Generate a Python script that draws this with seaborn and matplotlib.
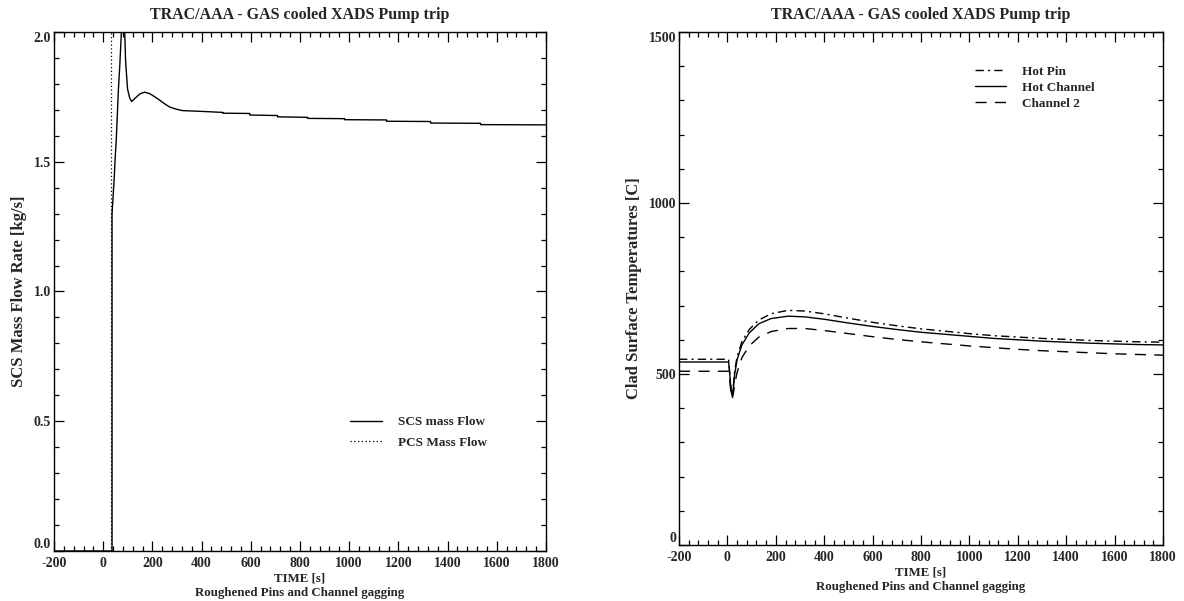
import matplotlib
matplotlib.use("Agg")
import matplotlib.pyplot as plt
from matplotlib.ticker import MultipleLocator, FormatStrFormatter
import seaborn as sns
import pandas as pd

# ---------------------------------------------------------------------------
# Data
# ---------------------------------------------------------------------------
TITLE = "TRAC/AAA - GAS cooled XADS Pump trip"
XLABEL = "TIME [s]\nRoughened Pins and Channel gagging"

# left panel: SCS / PCS mass flow [kg/s]
scs_time = [-200, 36, 36, 40, 45, 49, 53, 57, 62, 68, 74, 80, 86, 91, 99, 108,
            116, 130, 150, 169, 190, 210, 230, 250, 270, 295, 323, 400, 486,
            486, 596, 596, 709, 709, 831, 831, 981, 981, 1152, 1152, 1331,
            1331, 1534, 1534, 1800]
scs_flow = [0.0, 0.0, 1.30, 1.36, 1.44, 1.52, 1.58, 1.67, 1.78, 1.88, 2.00,
            2.18, 2.05, 1.89, 1.78, 1.745, 1.732, 1.745, 1.762, 1.768, 1.762,
            1.750, 1.737, 1.723, 1.711, 1.703, 1.697, 1.694, 1.690, 1.687,
            1.686, 1.680, 1.678, 1.673, 1.671, 1.667, 1.666, 1.662, 1.661,
            1.656, 1.655, 1.649, 1.648, 1.643, 1.642]

pcs_time = [-200, 30, 30, 1800]
pcs_flow = [10.0, 10.0, 0.0, 0.0]

# right panel: clad surface temperatures [C]
temp_time = [-200, 5, 10, 15, 20, 25, 30, 40, 60, 90, 130, 180, 250, 320, 400,
             500, 600, 700, 800, 900, 1000, 1100, 1200, 1300, 1400, 1500, 1600,
             1700, 1800]
hot_pin = [543, 543, 500, 455, 440, 470, 510, 550, 595, 630, 658, 676, 686,
           684, 676, 663, 651, 641, 632, 625, 618, 612, 608, 604, 601, 598,
           596, 594, 593]
hot_channel = [535, 535, 495, 450, 435, 462, 500, 542, 585, 620, 647, 662,
               669, 667, 660, 649, 639, 630, 622, 616, 610, 604, 600, 596,
               593, 590, 588, 586, 585]
channel_2 = [508, 508, 480, 440, 428, 445, 470, 505, 548, 582, 608, 624, 633,
             633, 627, 618, 609, 601, 594, 588, 582, 577, 572, 568, 565, 562,
             559, 557, 555]

# ---------------------------------------------------------------------------
# Style
# ---------------------------------------------------------------------------
sns.set_theme(style="ticks")
plt.rcParams["font.family"] = ["Liberation Serif", "DejaVu Serif"]
plt.rcParams["font.weight"] = "bold"
plt.rcParams["axes.labelweight"] = "bold"
plt.rcParams["axes.titleweight"] = "bold"
plt.rcParams["axes.unicode_minus"] = False
plt.rcParams["axes.linewidth"] = 1.0


def style_axes(ax, xlim, ylim, ymajor, yminor, yfmt):
    ax.set_xlim(*xlim)
    ax.set_ylim(*ylim)
    ax.xaxis.set_major_locator(MultipleLocator(200))
    ax.xaxis.set_minor_locator(MultipleLocator(40))
    ax.yaxis.set_major_locator(MultipleLocator(ymajor))
    ax.yaxis.set_minor_locator(MultipleLocator(yminor))
    ax.yaxis.set_major_formatter(FormatStrFormatter(yfmt))
    ax.tick_params(which="both", direction="in", top=True, right=True,
                   color="black", width=0.9, labelsize=10, pad=2)
    ax.tick_params(axis="x", pad=4)
    ax.tick_params(which="major", length=7)
    ax.tick_params(which="minor", length=3.5)
    for sp in ax.spines.values():
        sp.set_visible(True)
        sp.set_color("black")
    ax.set_title(TITLE, fontsize=11.5, pad=9)
    ax.set_xlabel(XLABEL, fontsize=9.3, linespacing=1.3, labelpad=2)


fig = plt.figure(figsize=(11.84, 6.01), dpi=100)
ax1 = fig.add_axes([0.0456, 0.0832, 0.4155, 0.8636])
ax2 = fig.add_axes([0.5735, 0.0932, 0.4088, 0.8536])

# --- left panel ---
scs = pd.DataFrame({"t": scs_time, "v": scs_flow})
pcs = pd.DataFrame({"t": pcs_time, "v": pcs_flow})
sns.lineplot(data=scs, x="t", y="v", ax=ax1, estimator=None, sort=False,
             color="black", lw=1.0, label="SCS mass Flow")
sns.lineplot(data=pcs, x="t", y="v", ax=ax1, estimator=None, sort=False,
             color="black", lw=0.9, linestyle=(0, (1, 2)),
             label="PCS Mass Flow")
style_axes(ax1, (-200, 1800), (0, 2.0), 0.5, 0.1, "%.1f")
ax1.set_ylabel("SCS Mass Flow Rate [kg/s]", fontsize=12, labelpad=5)
ax1.legend(loc="upper left", bbox_to_anchor=(0.591, 0.27), frameon=False,
           fontsize=9.5, handlelength=2.4, handletextpad=1.2, labelspacing=0.6,
           borderaxespad=0)

# --- right panel ---
temps = pd.DataFrame({"t": temp_time, "Hot Pin": hot_pin,
                      "Hot Channel": hot_channel, "Channel 2": channel_2})
styles = {"Hot Pin": (0, (6, 3, 1.5, 3)), "Hot Channel": "-",
          "Channel 2": (0, (8, 6))}
for name, ls in styles.items():
    sns.lineplot(data=temps, x="t", y=name, ax=ax2, estimator=None,
                 sort=False, color="black", lw=1.0, linestyle=ls, label=name)
style_axes(ax2, (-200, 1800), (0, 1500), 500, 100, "%d")
ax2.set_ylabel("Clad Surface Temperatures [C]", fontsize=12, labelpad=5)
ax2.legend(loc="upper left", bbox_to_anchor=(0.60, 0.945), frameon=False,
           fontsize=9.5, handlelength=2.4, handletextpad=1.2, labelspacing=0.3,
           borderaxespad=0)

# IDL-like placement of the end labels on the y axis
fig.canvas.draw()
for ax in (ax1, ax2):
    ticks = [t for t in ax.yaxis.get_major_ticks()
             if ax.get_ylim()[0] <= t.get_loc() <= ax.get_ylim()[1]]
    ticks[0].label1.set_verticalalignment("bottom")
    ticks[-1].label1.set_verticalalignment("top")

fig.savefig("out.png", dpi=100)
